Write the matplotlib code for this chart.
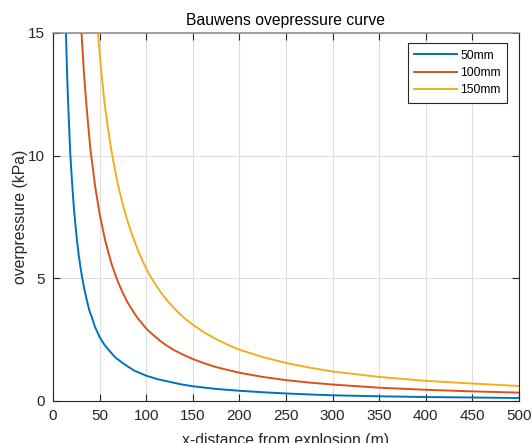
import matplotlib
matplotlib.use("Agg")
import matplotlib.pyplot as plt

# Read values (x-distance in m, overpressure in kPa)
x_50 = [13.0, 13.9, 14.5, 15, 15.7, 16.5, 17.5, 18.5, 19.7, 21, 22.5, 24, 25.7, 27.5, 29.5, 31.5,
        33.7, 36, 39, 42, 45, 50, 55, 60, 67, 75, 87, 100, 112, 125, 137, 150, 175, 200, 225,
        250, 275, 300, 350, 400, 450, 500]
p_50 = [16.4, 15.0, 14.2, 13.5, 12.7, 11.9, 11.0, 10.1, 9.36, 8.6, 7.82, 7.2, 6.55, 5.97, 5.44, 4.97,
        4.54, 4.15, 3.68, 3.37, 3.02, 2.6, 2.29, 2.06, 1.76, 1.53, 1.23, 1.02, 0.88, 0.77, 0.67, 0.59,
        0.48, 0.405, 0.345, 0.295, 0.255, 0.22, 0.18, 0.15, 0.13, 0.11]

x_100 = [29, 30.6, 31.8, 33, 34.5, 36, 38, 40, 42.5, 45, 47.5, 50, 53, 56, 59.5, 63, 66.5, 70, 75,
         80, 85, 90, 95, 100, 107, 115, 122, 130, 140, 150, 162, 175, 187, 200, 225, 250, 275,
         300, 350, 400, 450, 500]
p_100 = [16.1, 15.0, 14.24, 13.5, 12.72, 12.0, 11.14, 10.3, 9.57, 8.8, 8.21, 7.62, 7.07, 6.54, 6.03,
         5.56, 5.18, 4.82, 4.39, 4.01, 3.70, 3.41, 3.18, 2.94, 2.70, 2.44, 2.25, 2.06, 1.87, 1.70,
         1.53, 1.37, 1.26, 1.14, 0.97, 0.84, 0.74, 0.66, 0.53, 0.445, 0.38, 0.33]

x_150 = [46, 48.2, 50, 52, 54, 56, 59, 62, 65, 68, 71.5, 75, 79, 83, 87.5, 92, 98, 104, 110, 117,
         125, 133, 141, 150, 162, 175, 187, 200, 225, 250, 275, 300, 350, 400, 450, 500]
p_150 = [16.0, 15.0, 14.2, 13.35, 12.6, 11.95, 11.1, 10.35, 9.72, 9.12, 8.52, 8.0, 7.45, 6.98, 6.5,
         6.06, 5.55, 5.1, 4.74, 4.35, 3.98, 3.65, 3.37, 3.10, 2.79, 2.51, 2.29, 2.08, 1.78, 1.54,
         1.35, 1.19, 0.97, 0.81, 0.70, 0.60]

series_labels = ["50mm", "100mm", "150mm"]
x_ticks = [0, 50, 100, 150, 200, 250, 300, 350, 400, 450, 500]
y_ticks = [0, 5, 10, 15]

plt.rcParams['font.family'] = ['Liberation Sans', 'DejaVu Sans']

W, H = 532, 443
fig = plt.figure(figsize=(W / 100, H / 100), dpi=100)
ax = fig.add_axes([53/W, 1 - 400.7/H, (519 - 53)/W, (400.7 - 33)/H])

colors = ['#0072BD', '#D95319', '#EDB120']
for xs, ps, lab, c in zip([x_50, x_100, x_150], [p_50, p_100, p_150], series_labels, colors):
    ax.plot(xs, ps, color=c, lw=1.4, label=lab)

ax.set_xlim(0, 500)
ax.set_ylim(0, 15)
ax.set_xticks(x_ticks)
ax.set_yticks(y_ticks)
ax.grid(True, color='#dedede', lw=0.8)
ax.set_axisbelow(True)
ax.tick_params(direction='in', length=5, width=0.8, colors='#262626',
               top=True, right=True, labelsize=11, pad=6)
for s in ax.spines.values():
    s.set_color('#262626')
    s.set_linewidth(0.8)
ax.spines['top'].set_color('#8a8a8a')
ax.spines['top'].set_linewidth(1.1)

ax.set_title("Bauwens ovepressure curve", fontsize=11.3, pad=6, color='#000000')
ax.set_xlabel("x-distance from explosion (m)", fontsize=11.3, labelpad=7.5, color='#262626')
ax.set_ylabel("overpressure (kPa)", fontsize=11.3, labelpad=0, color='#262626')

leg = ax.legend(loc='upper right', bbox_to_anchor=(507.3/W, 1 - 43.3/H),
                bbox_transform=fig.transFigure, borderaxespad=0,
                fontsize=8.7, fancybox=False, framealpha=1,
                edgecolor='#262626', handlelength=3.55,
                handletextpad=0.27, borderpad=0.53, labelspacing=0.43)
leg.get_frame().set_linewidth(0.8)

fig.savefig("out.png", dpi=100)
